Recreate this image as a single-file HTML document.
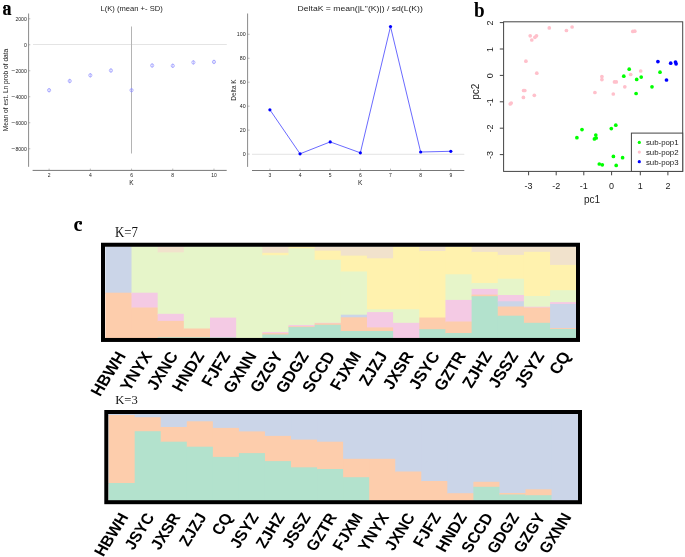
<!DOCTYPE html>
<html><head><meta charset="utf-8"><style>
html,body{margin:0;padding:0;background:#fff;}
svg{display:block;-webkit-font-smoothing:antialiased;will-change:transform;}
</style></head><body>
<svg width="685" height="557" viewBox="0 0 685 557">
<rect width="685" height="557" fill="#fff"/>
<text transform="translate(2.5,14.5) scale(0.886,1)" font-family="Liberation Serif, serif" font-weight="bold" font-size="20.4" stroke="#000" stroke-width="0.15">a</text>
<circle cx="4.5" cy="7.4" r="1.5" fill="#000"/>
<text x="131.6" y="11" font-family="Liberation Sans, sans-serif" font-size="7.6" fill="#222" text-anchor="middle">L(K) (mean +- SD)</text>
<line x1="28.6" y1="13.5" x2="28.6" y2="166.8" stroke="#8a8a8a" stroke-width="1"/>
<line x1="32.6" y1="170.4" x2="226.7" y2="170.4" stroke="#777" stroke-width="1"/>
<line x1="33" y1="44.5" x2="226.8" y2="44.5" stroke="#ddd" stroke-width="0.8"/>
<line x1="28.6" y1="18.75" x2="30.3" y2="18.75" stroke="#8a8a8a" stroke-width="0.6"/>
<text x="26.8" y="20.55" font-family="Liberation Sans, sans-serif" font-size="5.1" fill="#222" text-anchor="end">2000</text>
<line x1="28.6" y1="44.75" x2="30.3" y2="44.75" stroke="#8a8a8a" stroke-width="0.6"/>
<text x="26.8" y="46.55" font-family="Liberation Sans, sans-serif" font-size="5.1" fill="#222" text-anchor="end">0</text>
<line x1="28.6" y1="70.75" x2="30.3" y2="70.75" stroke="#8a8a8a" stroke-width="0.6"/>
<text x="26.8" y="72.55" font-family="Liberation Sans, sans-serif" font-size="5.1" fill="#222" text-anchor="end"><tspan font-size="6.6" dy="0.25">−</tspan><tspan dy="-0.25">2000</tspan></text>
<line x1="28.6" y1="96.75" x2="30.3" y2="96.75" stroke="#8a8a8a" stroke-width="0.6"/>
<text x="26.8" y="98.55" font-family="Liberation Sans, sans-serif" font-size="5.1" fill="#222" text-anchor="end"><tspan font-size="6.6" dy="0.25">−</tspan><tspan dy="-0.25">4000</tspan></text>
<line x1="28.6" y1="122.75" x2="30.3" y2="122.75" stroke="#8a8a8a" stroke-width="0.6"/>
<text x="26.8" y="124.55" font-family="Liberation Sans, sans-serif" font-size="5.1" fill="#222" text-anchor="end"><tspan font-size="6.6" dy="0.25">−</tspan><tspan dy="-0.25">6000</tspan></text>
<line x1="28.6" y1="148.75" x2="30.3" y2="148.75" stroke="#8a8a8a" stroke-width="0.6"/>
<text x="26.8" y="150.55" font-family="Liberation Sans, sans-serif" font-size="5.1" fill="#222" text-anchor="end"><tspan font-size="6.6" dy="0.25">−</tspan><tspan dy="-0.25">8000</tspan></text>
<line x1="49.10" y1="170.3" x2="49.10" y2="168.6" stroke="#8a8a8a" stroke-width="0.6"/>
<text x="49.10" y="177.1" font-family="Liberation Sans, sans-serif" font-size="5.0" fill="#222" text-anchor="middle">2</text>
<line x1="90.32" y1="170.3" x2="90.32" y2="168.6" stroke="#8a8a8a" stroke-width="0.6"/>
<text x="90.32" y="177.1" font-family="Liberation Sans, sans-serif" font-size="5.0" fill="#222" text-anchor="middle">4</text>
<line x1="131.54" y1="170.3" x2="131.54" y2="168.6" stroke="#8a8a8a" stroke-width="0.6"/>
<text x="131.54" y="177.1" font-family="Liberation Sans, sans-serif" font-size="5.0" fill="#222" text-anchor="middle">6</text>
<line x1="172.76" y1="170.3" x2="172.76" y2="168.6" stroke="#8a8a8a" stroke-width="0.6"/>
<text x="172.76" y="177.1" font-family="Liberation Sans, sans-serif" font-size="5.0" fill="#222" text-anchor="middle">8</text>
<line x1="213.98" y1="170.3" x2="213.98" y2="168.6" stroke="#8a8a8a" stroke-width="0.6"/>
<text x="213.98" y="177.1" font-family="Liberation Sans, sans-serif" font-size="5.0" fill="#222" text-anchor="middle">10</text>
<text x="131.5" y="184.5" font-family="Liberation Sans, sans-serif" font-size="6.5" fill="#222" text-anchor="middle">K</text>
<text transform="translate(8.2,90) rotate(-90)" font-family="Liberation Sans, sans-serif" font-size="6.6" fill="#222" text-anchor="middle">Mean of est. Ln prob of data</text>
<line x1="131.5" y1="26.5" x2="131.5" y2="153.5" stroke="#b4b4b4" stroke-width="1"/>
<line x1="49.10" y1="88.00" x2="49.10" y2="92.40" stroke="#99f" stroke-width="0.6"/>
<circle cx="49.10" cy="90.20" r="1.6" fill="none" stroke="#8c8cff" stroke-width="0.65"/>
<line x1="69.71" y1="78.80" x2="69.71" y2="83.20" stroke="#99f" stroke-width="0.6"/>
<circle cx="69.71" cy="81.00" r="1.6" fill="none" stroke="#8c8cff" stroke-width="0.65"/>
<line x1="90.32" y1="73.10" x2="90.32" y2="77.50" stroke="#99f" stroke-width="0.6"/>
<circle cx="90.32" cy="75.30" r="1.6" fill="none" stroke="#8c8cff" stroke-width="0.65"/>
<line x1="110.93" y1="68.30" x2="110.93" y2="72.70" stroke="#99f" stroke-width="0.6"/>
<circle cx="110.93" cy="70.50" r="1.6" fill="none" stroke="#8c8cff" stroke-width="0.65"/>
<line x1="131.54" y1="88.00" x2="131.54" y2="92.40" stroke="#99f" stroke-width="0.6"/>
<circle cx="131.54" cy="90.20" r="1.6" fill="none" stroke="#8c8cff" stroke-width="0.65"/>
<line x1="152.15" y1="63.30" x2="152.15" y2="67.70" stroke="#99f" stroke-width="0.6"/>
<circle cx="152.15" cy="65.50" r="1.6" fill="none" stroke="#8c8cff" stroke-width="0.65"/>
<line x1="172.76" y1="63.60" x2="172.76" y2="68.00" stroke="#99f" stroke-width="0.6"/>
<circle cx="172.76" cy="65.80" r="1.6" fill="none" stroke="#8c8cff" stroke-width="0.65"/>
<line x1="193.37" y1="60.20" x2="193.37" y2="64.60" stroke="#99f" stroke-width="0.6"/>
<circle cx="193.37" cy="62.40" r="1.6" fill="none" stroke="#8c8cff" stroke-width="0.65"/>
<line x1="213.98" y1="59.70" x2="213.98" y2="64.10" stroke="#99f" stroke-width="0.6"/>
<circle cx="213.98" cy="61.90" r="1.6" fill="none" stroke="#8c8cff" stroke-width="0.65"/>
<text x="297.6" y="11" font-family="Liberation Sans, sans-serif" font-size="7.6" fill="#222" textLength="125.2" lengthAdjust="spacingAndGlyphs">DeltaK = mean(|L''(K)|) / sd(L(K))</text>
<line x1="247.6" y1="13.5" x2="247.6" y2="166.9" stroke="#8a8a8a" stroke-width="1"/>
<line x1="252" y1="170.5" x2="464.3" y2="170.5" stroke="#777" stroke-width="1"/>
<line x1="252" y1="154.3" x2="464.3" y2="154.3" stroke="#ddd" stroke-width="0.8"/>
<line x1="247.6" y1="154.10" x2="249.6" y2="154.10" stroke="#8a8a8a" stroke-width="0.6"/>
<text x="245.6" y="155.90" font-family="Liberation Sans, sans-serif" font-size="5.3" fill="#222" text-anchor="end">0</text>
<line x1="247.6" y1="130.14" x2="249.6" y2="130.14" stroke="#8a8a8a" stroke-width="0.6"/>
<text x="245.6" y="131.94" font-family="Liberation Sans, sans-serif" font-size="5.3" fill="#222" text-anchor="end">20</text>
<line x1="247.6" y1="106.18" x2="249.6" y2="106.18" stroke="#8a8a8a" stroke-width="0.6"/>
<text x="245.6" y="107.98" font-family="Liberation Sans, sans-serif" font-size="5.3" fill="#222" text-anchor="end">40</text>
<line x1="247.6" y1="82.22" x2="249.6" y2="82.22" stroke="#8a8a8a" stroke-width="0.6"/>
<text x="245.6" y="84.02" font-family="Liberation Sans, sans-serif" font-size="5.3" fill="#222" text-anchor="end">60</text>
<line x1="247.6" y1="58.26" x2="249.6" y2="58.26" stroke="#8a8a8a" stroke-width="0.6"/>
<text x="245.6" y="60.06" font-family="Liberation Sans, sans-serif" font-size="5.3" fill="#222" text-anchor="end">80</text>
<line x1="247.6" y1="34.30" x2="249.6" y2="34.30" stroke="#8a8a8a" stroke-width="0.6"/>
<text x="245.6" y="36.10" font-family="Liberation Sans, sans-serif" font-size="5.3" fill="#222" text-anchor="end">100</text>
<line x1="269.90" y1="170.5" x2="269.90" y2="168.6" stroke="#8a8a8a" stroke-width="0.6"/>
<text x="269.90" y="177.1" font-family="Liberation Sans, sans-serif" font-size="5.0" fill="#222" text-anchor="middle">3</text>
<line x1="300.05" y1="170.5" x2="300.05" y2="168.6" stroke="#8a8a8a" stroke-width="0.6"/>
<text x="300.05" y="177.1" font-family="Liberation Sans, sans-serif" font-size="5.0" fill="#222" text-anchor="middle">4</text>
<line x1="330.20" y1="170.5" x2="330.20" y2="168.6" stroke="#8a8a8a" stroke-width="0.6"/>
<text x="330.20" y="177.1" font-family="Liberation Sans, sans-serif" font-size="5.0" fill="#222" text-anchor="middle">5</text>
<line x1="360.35" y1="170.5" x2="360.35" y2="168.6" stroke="#8a8a8a" stroke-width="0.6"/>
<text x="360.35" y="177.1" font-family="Liberation Sans, sans-serif" font-size="5.0" fill="#222" text-anchor="middle">6</text>
<line x1="390.50" y1="170.5" x2="390.50" y2="168.6" stroke="#8a8a8a" stroke-width="0.6"/>
<text x="390.50" y="177.1" font-family="Liberation Sans, sans-serif" font-size="5.0" fill="#222" text-anchor="middle">7</text>
<line x1="420.65" y1="170.5" x2="420.65" y2="168.6" stroke="#8a8a8a" stroke-width="0.6"/>
<text x="420.65" y="177.1" font-family="Liberation Sans, sans-serif" font-size="5.0" fill="#222" text-anchor="middle">8</text>
<line x1="450.80" y1="170.5" x2="450.80" y2="168.6" stroke="#8a8a8a" stroke-width="0.6"/>
<text x="450.80" y="177.1" font-family="Liberation Sans, sans-serif" font-size="5.0" fill="#222" text-anchor="middle">9</text>
<text x="360.2" y="184.5" font-family="Liberation Sans, sans-serif" font-size="6.5" fill="#222" text-anchor="middle">K</text>
<text transform="translate(236,90) rotate(-90)" font-family="Liberation Sans, sans-serif" font-size="6.5" fill="#222" text-anchor="middle">Delta K</text>
<polyline points="269.90,109.80 300.05,153.80 330.20,141.90 360.35,152.80 390.50,26.60 420.65,152.00 450.80,151.30" fill="none" stroke="#44f" stroke-width="0.8"/>
<circle cx="269.90" cy="109.80" r="1.6" fill="#00f"/>
<circle cx="300.05" cy="153.80" r="1.6" fill="#00f"/>
<circle cx="330.20" cy="141.90" r="1.6" fill="#00f"/>
<circle cx="360.35" cy="152.80" r="1.6" fill="#00f"/>
<circle cx="390.50" cy="26.60" r="1.6" fill="#00f"/>
<circle cx="420.65" cy="152.00" r="1.6" fill="#00f"/>
<circle cx="450.80" cy="151.30" r="1.6" fill="#00f"/>
<text transform="translate(474.1,16.6) scale(0.95,1)" font-family="Liberation Serif, serif" font-weight="bold" font-size="20.2">b</text>
<rect x="503.6" y="21.8" width="179.1" height="149.6" fill="none" stroke="#444" stroke-width="1"/>
<line x1="499.8" y1="22.60" x2="503.6" y2="22.60" stroke="#444" stroke-width="1"/>
<text transform="translate(492.8,23.00) rotate(-90)" font-family="Liberation Sans, sans-serif" font-size="9" fill="#222" text-anchor="middle">2</text>
<line x1="499.8" y1="49.00" x2="503.6" y2="49.00" stroke="#444" stroke-width="1"/>
<text transform="translate(492.8,49.40) rotate(-90)" font-family="Liberation Sans, sans-serif" font-size="9" fill="#222" text-anchor="middle">1</text>
<line x1="499.8" y1="75.40" x2="503.6" y2="75.40" stroke="#444" stroke-width="1"/>
<text transform="translate(492.8,75.80) rotate(-90)" font-family="Liberation Sans, sans-serif" font-size="9" fill="#222" text-anchor="middle">0</text>
<line x1="499.8" y1="101.80" x2="503.6" y2="101.80" stroke="#444" stroke-width="1"/>
<text transform="translate(492.8,102.20) rotate(-90)" font-family="Liberation Sans, sans-serif" font-size="9" fill="#222" text-anchor="middle">-1</text>
<line x1="499.8" y1="128.20" x2="503.6" y2="128.20" stroke="#444" stroke-width="1"/>
<text transform="translate(492.8,128.60) rotate(-90)" font-family="Liberation Sans, sans-serif" font-size="9" fill="#222" text-anchor="middle">-2</text>
<line x1="499.8" y1="154.60" x2="503.6" y2="154.60" stroke="#444" stroke-width="1"/>
<text transform="translate(492.8,155.00) rotate(-90)" font-family="Liberation Sans, sans-serif" font-size="9" fill="#222" text-anchor="middle">-3</text>
<line x1="528.60" y1="171.4" x2="528.60" y2="175.3" stroke="#444" stroke-width="1"/>
<text x="528.60" y="188.8" font-family="Liberation Sans, sans-serif" font-size="9" fill="#222" text-anchor="middle">-3</text>
<line x1="556.20" y1="171.4" x2="556.20" y2="175.3" stroke="#444" stroke-width="1"/>
<text x="556.20" y="188.8" font-family="Liberation Sans, sans-serif" font-size="9" fill="#222" text-anchor="middle">-2</text>
<line x1="583.80" y1="171.4" x2="583.80" y2="175.3" stroke="#444" stroke-width="1"/>
<text x="583.80" y="188.8" font-family="Liberation Sans, sans-serif" font-size="9" fill="#222" text-anchor="middle">-1</text>
<line x1="611.60" y1="171.4" x2="611.60" y2="175.3" stroke="#444" stroke-width="1"/>
<text x="611.60" y="188.8" font-family="Liberation Sans, sans-serif" font-size="9" fill="#222" text-anchor="middle">0</text>
<line x1="640.30" y1="171.4" x2="640.30" y2="175.3" stroke="#444" stroke-width="1"/>
<text x="640.30" y="188.8" font-family="Liberation Sans, sans-serif" font-size="9" fill="#222" text-anchor="middle">1</text>
<line x1="667.90" y1="171.4" x2="667.90" y2="175.3" stroke="#444" stroke-width="1"/>
<text x="667.90" y="188.8" font-family="Liberation Sans, sans-serif" font-size="9" fill="#222" text-anchor="middle">2</text>
<text x="592" y="203" font-family="Liberation Sans, sans-serif" font-size="10" fill="#222" text-anchor="middle">pc1</text>
<text transform="translate(479,91.7) rotate(-90)" font-family="Liberation Sans, sans-serif" font-size="10" fill="#222" text-anchor="middle">pc2</text>
<circle cx="530.2" cy="35.8" r="1.85" fill="#FFC0CB"/>
<circle cx="531.8" cy="40" r="1.85" fill="#FFC0CB"/>
<circle cx="534.9" cy="37.3" r="1.85" fill="#FFC0CB"/>
<circle cx="536.5" cy="35.8" r="1.85" fill="#FFC0CB"/>
<circle cx="549.3" cy="27.9" r="1.85" fill="#FFC0CB"/>
<circle cx="566.4" cy="30.5" r="1.85" fill="#FFC0CB"/>
<circle cx="572.1" cy="27" r="1.85" fill="#FFC0CB"/>
<circle cx="525.9" cy="61.2" r="1.85" fill="#FFC0CB"/>
<circle cx="536.8" cy="73.2" r="1.85" fill="#FFC0CB"/>
<circle cx="523.6" cy="90.5" r="1.85" fill="#FFC0CB"/>
<circle cx="524.8" cy="90.5" r="1.85" fill="#FFC0CB"/>
<circle cx="534.3" cy="95.3" r="1.85" fill="#FFC0CB"/>
<circle cx="523.4" cy="97.4" r="1.85" fill="#FFC0CB"/>
<circle cx="510.2" cy="104" r="1.85" fill="#FFC0CB"/>
<circle cx="511.2" cy="103" r="1.85" fill="#FFC0CB"/>
<circle cx="632.8" cy="31.4" r="1.85" fill="#FFC0CB"/>
<circle cx="634.8" cy="31.2" r="1.85" fill="#FFC0CB"/>
<circle cx="601.9" cy="76.5" r="1.85" fill="#FFC0CB"/>
<circle cx="601.9" cy="79.6" r="1.85" fill="#FFC0CB"/>
<circle cx="614.5" cy="81.9" r="1.85" fill="#FFC0CB"/>
<circle cx="616.3" cy="81.9" r="1.85" fill="#FFC0CB"/>
<circle cx="630.7" cy="74.5" r="1.85" fill="#FFC0CB"/>
<circle cx="640.7" cy="71" r="1.85" fill="#FFC0CB"/>
<circle cx="624.8" cy="86.8" r="1.85" fill="#FFC0CB"/>
<circle cx="594.9" cy="92.5" r="1.85" fill="#FFC0CB"/>
<circle cx="613.3" cy="94" r="1.85" fill="#FFC0CB"/>
<circle cx="629.2" cy="69.2" r="1.85" fill="#00FF00"/>
<circle cx="623.8" cy="76.2" r="1.85" fill="#00FF00"/>
<circle cx="636.7" cy="79.4" r="1.85" fill="#00FF00"/>
<circle cx="641.2" cy="77.1" r="1.85" fill="#00FF00"/>
<circle cx="660" cy="72.2" r="1.85" fill="#00FF00"/>
<circle cx="652" cy="86.8" r="1.85" fill="#00FF00"/>
<circle cx="636.1" cy="93.5" r="1.85" fill="#00FF00"/>
<circle cx="582" cy="129.6" r="1.85" fill="#00FF00"/>
<circle cx="576.9" cy="137.7" r="1.85" fill="#00FF00"/>
<circle cx="595.8" cy="135.1" r="1.85" fill="#00FF00"/>
<circle cx="594.4" cy="138.9" r="1.85" fill="#00FF00"/>
<circle cx="596.2" cy="138" r="1.85" fill="#00FF00"/>
<circle cx="611.3" cy="128.6" r="1.85" fill="#00FF00"/>
<circle cx="615.8" cy="125.2" r="1.85" fill="#00FF00"/>
<circle cx="613.4" cy="156.4" r="1.85" fill="#00FF00"/>
<circle cx="622.6" cy="157.7" r="1.85" fill="#00FF00"/>
<circle cx="599.3" cy="164" r="1.85" fill="#00FF00"/>
<circle cx="602.3" cy="164.8" r="1.85" fill="#00FF00"/>
<circle cx="616.2" cy="165.4" r="1.85" fill="#00FF00"/>
<circle cx="657.9" cy="61.6" r="1.85" fill="#0000FF"/>
<circle cx="670.7" cy="63.2" r="1.85" fill="#0000FF"/>
<circle cx="675.5" cy="62" r="1.85" fill="#0000FF"/>
<circle cx="676.1" cy="63.8" r="1.85" fill="#0000FF"/>
<circle cx="666.5" cy="80" r="1.85" fill="#0000FF"/>
<rect x="631.4" y="133.1" width="51.3" height="38.3" fill="#fff" stroke="#444" stroke-width="1"/>
<circle cx="639.3" cy="142.40" r="1.6" fill="#00FF00"/>
<text x="645.9" y="145.20" font-family="Liberation Sans, sans-serif" font-size="7.85" fill="#1a1a1a">sub-pop1</text>
<circle cx="639.3" cy="152.05" r="1.6" fill="#FFC0CB"/>
<text x="645.9" y="154.85" font-family="Liberation Sans, sans-serif" font-size="7.85" fill="#1a1a1a">sub-pop2</text>
<circle cx="639.3" cy="161.70" r="1.6" fill="#0000FF"/>
<text x="645.9" y="164.50" font-family="Liberation Sans, sans-serif" font-size="7.85" fill="#1a1a1a">sub-pop3</text>
<text x="73.6" y="231.3" font-family="Liberation Serif, serif" font-weight="bold" font-size="20.3">c</text>
<circle cx="80.6" cy="223.3" r="1.4" fill="#000"/>
<text x="115" y="237.3" font-family="Liberation Serif, serif" font-size="13.8" textLength="23" lengthAdjust="spacingAndGlyphs" fill="#111">K=7</text>
<text x="115.2" y="403.9" font-family="Liberation Serif, serif" font-size="13.2" textLength="22.6" lengthAdjust="spacingAndGlyphs" fill="#111">K=3</text>
<rect x="105.35" y="246.70" width="27.16" height="47.00" fill="#CBD5E8"/>
<rect x="105.35" y="292.70" width="27.16" height="45.90" fill="#FDCDAC"/>
<rect x="131.51" y="246.70" width="27.16" height="47.00" fill="#E6F5C9"/>
<rect x="131.51" y="292.70" width="27.16" height="15.80" fill="#F4CAE4"/>
<rect x="131.51" y="307.50" width="27.16" height="31.10" fill="#FDCDAC"/>
<rect x="157.67" y="246.70" width="27.16" height="6.70" fill="#F1E2CC"/>
<rect x="157.67" y="252.40" width="27.16" height="62.40" fill="#E6F5C9"/>
<rect x="157.67" y="313.80" width="27.16" height="8.10" fill="#F4CAE4"/>
<rect x="157.67" y="320.90" width="27.16" height="17.40" fill="#FDCDAC"/>
<rect x="157.67" y="337.30" width="27.16" height="1.30" fill="#B3E2CD"/>
<rect x="183.83" y="246.70" width="27.16" height="82.80" fill="#E6F5C9"/>
<rect x="183.83" y="328.50" width="27.16" height="9.80" fill="#FDCDAC"/>
<rect x="183.83" y="337.30" width="27.16" height="1.30" fill="#B3E2CD"/>
<rect x="209.99" y="246.70" width="27.16" height="71.90" fill="#E6F5C9"/>
<rect x="209.99" y="317.60" width="27.16" height="20.90" fill="#F4CAE4"/>
<rect x="209.99" y="337.50" width="27.16" height="1.10" fill="#B3E2CD"/>
<rect x="236.16" y="246.70" width="27.16" height="91.90" fill="#E6F5C9"/>
<rect x="262.32" y="246.70" width="27.16" height="7.10" fill="#F1E2CC"/>
<rect x="262.32" y="252.80" width="27.16" height="3.40" fill="#FFF2AE"/>
<rect x="262.32" y="255.20" width="27.16" height="77.80" fill="#E6F5C9"/>
<rect x="262.32" y="332.00" width="27.16" height="2.20" fill="#F4CAE4"/>
<rect x="262.32" y="333.20" width="27.16" height="2.30" fill="#FDCDAC"/>
<rect x="262.32" y="334.50" width="27.16" height="4.10" fill="#B3E2CD"/>
<rect x="288.48" y="246.70" width="27.16" height="2.60" fill="#FFF2AE"/>
<rect x="288.48" y="248.30" width="27.16" height="77.70" fill="#E6F5C9"/>
<rect x="288.48" y="325.00" width="27.16" height="2.30" fill="#F4CAE4"/>
<rect x="288.48" y="326.30" width="27.16" height="1.80" fill="#FDCDAC"/>
<rect x="288.48" y="327.10" width="27.16" height="11.50" fill="#B3E2CD"/>
<rect x="314.64" y="246.70" width="27.16" height="4.90" fill="#F1E2CC"/>
<rect x="314.64" y="250.60" width="27.16" height="10.20" fill="#FFF2AE"/>
<rect x="314.64" y="259.80" width="27.16" height="64.00" fill="#E6F5C9"/>
<rect x="314.64" y="322.80" width="27.16" height="1.50" fill="#F4CAE4"/>
<rect x="314.64" y="323.30" width="27.16" height="2.50" fill="#FDCDAC"/>
<rect x="314.64" y="324.80" width="27.16" height="13.80" fill="#B3E2CD"/>
<rect x="340.80" y="246.70" width="27.16" height="9.90" fill="#F1E2CC"/>
<rect x="340.80" y="255.60" width="27.16" height="16.90" fill="#FFF2AE"/>
<rect x="340.80" y="271.50" width="27.16" height="44.20" fill="#E6F5C9"/>
<rect x="340.80" y="314.70" width="27.16" height="3.60" fill="#CBD5E8"/>
<rect x="340.80" y="317.30" width="27.16" height="14.70" fill="#FDCDAC"/>
<rect x="340.80" y="331.00" width="27.16" height="7.60" fill="#B3E2CD"/>
<rect x="366.96" y="246.70" width="27.16" height="12.60" fill="#F1E2CC"/>
<rect x="366.96" y="258.30" width="27.16" height="52.00" fill="#FFF2AE"/>
<rect x="366.96" y="309.30" width="27.16" height="3.80" fill="#E6F5C9"/>
<rect x="366.96" y="312.10" width="27.16" height="16.30" fill="#F4CAE4"/>
<rect x="366.96" y="327.40" width="27.16" height="4.60" fill="#FDCDAC"/>
<rect x="366.96" y="331.00" width="27.16" height="7.60" fill="#B3E2CD"/>
<rect x="393.12" y="246.70" width="27.16" height="63.50" fill="#FFF2AE"/>
<rect x="393.12" y="309.20" width="27.16" height="14.60" fill="#E6F5C9"/>
<rect x="393.12" y="322.80" width="27.16" height="15.80" fill="#F4CAE4"/>
<rect x="419.28" y="246.70" width="27.16" height="5.30" fill="#F1E2CC"/>
<rect x="419.28" y="251.00" width="27.16" height="67.50" fill="#FFF2AE"/>
<rect x="419.28" y="317.50" width="27.16" height="12.70" fill="#FDCDAC"/>
<rect x="419.28" y="329.20" width="27.16" height="9.40" fill="#B3E2CD"/>
<rect x="445.44" y="246.70" width="27.16" height="28.60" fill="#FFF2AE"/>
<rect x="445.44" y="274.30" width="27.16" height="26.60" fill="#E6F5C9"/>
<rect x="445.44" y="299.90" width="27.16" height="22.60" fill="#F4CAE4"/>
<rect x="445.44" y="321.50" width="27.16" height="12.50" fill="#FDCDAC"/>
<rect x="445.44" y="333.00" width="27.16" height="5.60" fill="#B3E2CD"/>
<rect x="471.61" y="246.70" width="27.16" height="6.20" fill="#F1E2CC"/>
<rect x="471.61" y="251.90" width="27.16" height="32.10" fill="#FFF2AE"/>
<rect x="471.61" y="283.00" width="27.16" height="6.90" fill="#E6F5C9"/>
<rect x="471.61" y="288.90" width="27.16" height="6.70" fill="#F4CAE4"/>
<rect x="471.61" y="294.60" width="27.16" height="2.60" fill="#FDCDAC"/>
<rect x="471.61" y="296.20" width="27.16" height="42.40" fill="#B3E2CD"/>
<rect x="497.77" y="246.70" width="27.16" height="9.20" fill="#F1E2CC"/>
<rect x="497.77" y="254.90" width="27.16" height="24.80" fill="#FFF2AE"/>
<rect x="497.77" y="278.70" width="27.16" height="17.30" fill="#E6F5C9"/>
<rect x="497.77" y="295.00" width="27.16" height="7.30" fill="#F4CAE4"/>
<rect x="497.77" y="301.30" width="27.16" height="6.20" fill="#CBD5E8"/>
<rect x="497.77" y="306.50" width="27.16" height="10.20" fill="#FDCDAC"/>
<rect x="497.77" y="315.70" width="27.16" height="22.90" fill="#B3E2CD"/>
<rect x="523.93" y="246.70" width="27.16" height="6.10" fill="#F1E2CC"/>
<rect x="523.93" y="251.80" width="27.16" height="45.20" fill="#FFF2AE"/>
<rect x="523.93" y="296.00" width="27.16" height="11.70" fill="#E6F5C9"/>
<rect x="523.93" y="306.70" width="27.16" height="1.80" fill="#F4CAE4"/>
<rect x="523.93" y="307.50" width="27.16" height="16.30" fill="#FDCDAC"/>
<rect x="523.93" y="322.80" width="27.16" height="15.80" fill="#B3E2CD"/>
<rect x="550.09" y="246.70" width="27.16" height="19.20" fill="#F1E2CC"/>
<rect x="550.09" y="264.90" width="27.16" height="26.30" fill="#FFF2AE"/>
<rect x="550.09" y="290.20" width="27.16" height="12.90" fill="#E6F5C9"/>
<rect x="550.09" y="302.10" width="27.16" height="2.90" fill="#F4CAE4"/>
<rect x="550.09" y="304.00" width="27.16" height="25.10" fill="#CBD5E8"/>
<rect x="550.09" y="328.10" width="27.16" height="1.90" fill="#FDCDAC"/>
<rect x="550.09" y="329.00" width="27.16" height="9.60" fill="#B3E2CD"/>
<rect x="103" y="244.75" width="475" height="95.2" fill="none" stroke="#000" stroke-width="4"/>
<rect x="108.65" y="414.00" width="27.05" height="2.00" fill="#CBD5E8"/>
<rect x="108.65" y="415.00" width="27.05" height="69.00" fill="#FDCDAC"/>
<rect x="108.65" y="483.00" width="27.05" height="17.80" fill="#B3E2CD"/>
<rect x="134.70" y="414.00" width="27.05" height="4.20" fill="#CBD5E8"/>
<rect x="134.70" y="417.20" width="27.05" height="15.00" fill="#FDCDAC"/>
<rect x="134.70" y="431.20" width="27.05" height="69.60" fill="#B3E2CD"/>
<rect x="160.76" y="414.00" width="27.05" height="14.00" fill="#CBD5E8"/>
<rect x="160.76" y="427.00" width="27.05" height="15.70" fill="#FDCDAC"/>
<rect x="160.76" y="441.70" width="27.05" height="59.10" fill="#B3E2CD"/>
<rect x="186.81" y="414.00" width="27.05" height="8.30" fill="#CBD5E8"/>
<rect x="186.81" y="421.30" width="27.05" height="26.40" fill="#FDCDAC"/>
<rect x="186.81" y="446.70" width="27.05" height="54.10" fill="#B3E2CD"/>
<rect x="212.86" y="414.00" width="27.05" height="14.90" fill="#CBD5E8"/>
<rect x="212.86" y="427.90" width="27.05" height="30.00" fill="#FDCDAC"/>
<rect x="212.86" y="456.90" width="27.05" height="43.90" fill="#B3E2CD"/>
<rect x="238.91" y="414.00" width="27.05" height="18.40" fill="#CBD5E8"/>
<rect x="238.91" y="431.40" width="27.05" height="22.70" fill="#FDCDAC"/>
<rect x="238.91" y="453.10" width="27.05" height="47.70" fill="#B3E2CD"/>
<rect x="264.97" y="414.00" width="27.05" height="22.90" fill="#CBD5E8"/>
<rect x="264.97" y="435.90" width="27.05" height="26.20" fill="#FDCDAC"/>
<rect x="264.97" y="461.10" width="27.05" height="39.70" fill="#B3E2CD"/>
<rect x="291.02" y="414.00" width="27.05" height="26.60" fill="#CBD5E8"/>
<rect x="291.02" y="439.60" width="27.05" height="28.70" fill="#FDCDAC"/>
<rect x="291.02" y="467.30" width="27.05" height="33.50" fill="#B3E2CD"/>
<rect x="317.07" y="414.00" width="27.05" height="28.70" fill="#CBD5E8"/>
<rect x="317.07" y="441.70" width="27.05" height="28.30" fill="#FDCDAC"/>
<rect x="317.07" y="469.00" width="27.05" height="31.80" fill="#B3E2CD"/>
<rect x="343.12" y="414.00" width="27.05" height="45.80" fill="#CBD5E8"/>
<rect x="343.12" y="458.80" width="27.05" height="19.40" fill="#FDCDAC"/>
<rect x="343.12" y="477.20" width="27.05" height="23.60" fill="#B3E2CD"/>
<rect x="369.18" y="414.00" width="27.05" height="45.80" fill="#CBD5E8"/>
<rect x="369.18" y="458.80" width="27.05" height="42.00" fill="#FDCDAC"/>
<rect x="395.23" y="414.00" width="27.05" height="58.50" fill="#CBD5E8"/>
<rect x="395.23" y="471.50" width="27.05" height="29.30" fill="#FDCDAC"/>
<rect x="421.28" y="414.00" width="27.05" height="68.00" fill="#CBD5E8"/>
<rect x="421.28" y="481.00" width="27.05" height="19.80" fill="#FDCDAC"/>
<rect x="447.34" y="414.00" width="27.05" height="80.20" fill="#CBD5E8"/>
<rect x="447.34" y="493.20" width="27.05" height="7.60" fill="#FDCDAC"/>
<rect x="473.39" y="414.00" width="27.05" height="68.80" fill="#CBD5E8"/>
<rect x="473.39" y="481.80" width="27.05" height="6.00" fill="#FDCDAC"/>
<rect x="473.39" y="486.80" width="27.05" height="14.00" fill="#B3E2CD"/>
<rect x="499.44" y="414.00" width="27.05" height="80.00" fill="#CBD5E8"/>
<rect x="499.44" y="493.00" width="27.05" height="2.50" fill="#FDCDAC"/>
<rect x="499.44" y="494.50" width="27.05" height="6.30" fill="#B3E2CD"/>
<rect x="525.49" y="414.00" width="27.05" height="76.30" fill="#CBD5E8"/>
<rect x="525.49" y="489.30" width="27.05" height="6.90" fill="#FDCDAC"/>
<rect x="525.49" y="495.20" width="27.05" height="5.60" fill="#B3E2CD"/>
<rect x="551.55" y="414.00" width="27.05" height="86.80" fill="#CBD5E8"/>
<rect x="106.3" y="412" width="473.7" height="90.2" fill="none" stroke="#000" stroke-width="4"/>
<text transform="translate(126.43,355.50) scale(1.1,1) rotate(-60)" font-family="Liberation Sans, sans-serif" font-weight="bold" font-size="15.5" fill="#000" text-anchor="end">HBWH</text>
<text transform="translate(152.59,355.50) scale(1.1,1) rotate(-60)" font-family="Liberation Sans, sans-serif" font-weight="bold" font-size="15.5" fill="#000" text-anchor="end">YNYX</text>
<text transform="translate(178.75,355.50) scale(1.1,1) rotate(-60)" font-family="Liberation Sans, sans-serif" font-weight="bold" font-size="15.5" fill="#000" text-anchor="end">JXNC</text>
<text transform="translate(204.91,355.50) scale(1.1,1) rotate(-60)" font-family="Liberation Sans, sans-serif" font-weight="bold" font-size="15.5" fill="#000" text-anchor="end">HNDZ</text>
<text transform="translate(231.07,355.50) scale(1.1,1) rotate(-60)" font-family="Liberation Sans, sans-serif" font-weight="bold" font-size="15.5" fill="#000" text-anchor="end">FJFZ</text>
<text transform="translate(257.24,355.50) scale(1.1,1) rotate(-60)" font-family="Liberation Sans, sans-serif" font-weight="bold" font-size="15.5" fill="#000" text-anchor="end">GXNN</text>
<text transform="translate(283.40,355.50) scale(1.1,1) rotate(-60)" font-family="Liberation Sans, sans-serif" font-weight="bold" font-size="15.5" fill="#000" text-anchor="end">GZGY</text>
<text transform="translate(309.56,355.50) scale(1.1,1) rotate(-60)" font-family="Liberation Sans, sans-serif" font-weight="bold" font-size="15.5" fill="#000" text-anchor="end">GDGZ</text>
<text transform="translate(335.72,355.50) scale(1.1,1) rotate(-60)" font-family="Liberation Sans, sans-serif" font-weight="bold" font-size="15.5" fill="#000" text-anchor="end">SCCD</text>
<text transform="translate(361.88,355.50) scale(1.1,1) rotate(-60)" font-family="Liberation Sans, sans-serif" font-weight="bold" font-size="15.5" fill="#000" text-anchor="end">FJXM</text>
<text transform="translate(388.04,355.50) scale(1.1,1) rotate(-60)" font-family="Liberation Sans, sans-serif" font-weight="bold" font-size="15.5" fill="#000" text-anchor="end">ZJZJ</text>
<text transform="translate(414.20,355.50) scale(1.1,1) rotate(-60)" font-family="Liberation Sans, sans-serif" font-weight="bold" font-size="15.5" fill="#000" text-anchor="end">JXSR</text>
<text transform="translate(440.36,355.50) scale(1.1,1) rotate(-60)" font-family="Liberation Sans, sans-serif" font-weight="bold" font-size="15.5" fill="#000" text-anchor="end">JSYC</text>
<text transform="translate(466.52,355.50) scale(1.1,1) rotate(-60)" font-family="Liberation Sans, sans-serif" font-weight="bold" font-size="15.5" fill="#000" text-anchor="end">GZTR</text>
<text transform="translate(492.69,355.50) scale(1.1,1) rotate(-60)" font-family="Liberation Sans, sans-serif" font-weight="bold" font-size="15.5" fill="#000" text-anchor="end">ZJHZ</text>
<text transform="translate(518.85,355.50) scale(1.1,1) rotate(-60)" font-family="Liberation Sans, sans-serif" font-weight="bold" font-size="15.5" fill="#000" text-anchor="end">JSSZ</text>
<text transform="translate(545.01,355.50) scale(1.1,1) rotate(-60)" font-family="Liberation Sans, sans-serif" font-weight="bold" font-size="15.5" fill="#000" text-anchor="end">JSYZ</text>
<text transform="translate(571.17,355.50) scale(1.1,1) rotate(-60)" font-family="Liberation Sans, sans-serif" font-weight="bold" font-size="15.5" fill="#000" text-anchor="end">CQ</text>
<text transform="translate(128.98,516.90) scale(1.1,1) rotate(-60)" font-family="Liberation Sans, sans-serif" font-weight="bold" font-size="15" fill="#000" text-anchor="end">HBWH</text>
<text transform="translate(155.03,516.90) scale(1.1,1) rotate(-60)" font-family="Liberation Sans, sans-serif" font-weight="bold" font-size="15" fill="#000" text-anchor="end">JSYC</text>
<text transform="translate(181.08,516.90) scale(1.1,1) rotate(-60)" font-family="Liberation Sans, sans-serif" font-weight="bold" font-size="15" fill="#000" text-anchor="end">JXSR</text>
<text transform="translate(207.13,516.90) scale(1.1,1) rotate(-60)" font-family="Liberation Sans, sans-serif" font-weight="bold" font-size="15" fill="#000" text-anchor="end">ZJZJ</text>
<text transform="translate(233.19,516.90) scale(1.1,1) rotate(-60)" font-family="Liberation Sans, sans-serif" font-weight="bold" font-size="15" fill="#000" text-anchor="end">CQ</text>
<text transform="translate(259.24,516.90) scale(1.1,1) rotate(-60)" font-family="Liberation Sans, sans-serif" font-weight="bold" font-size="15" fill="#000" text-anchor="end">JSYZ</text>
<text transform="translate(285.29,516.90) scale(1.1,1) rotate(-60)" font-family="Liberation Sans, sans-serif" font-weight="bold" font-size="15" fill="#000" text-anchor="end">ZJHZ</text>
<text transform="translate(311.35,516.90) scale(1.1,1) rotate(-60)" font-family="Liberation Sans, sans-serif" font-weight="bold" font-size="15" fill="#000" text-anchor="end">JSSZ</text>
<text transform="translate(337.40,516.90) scale(1.1,1) rotate(-60)" font-family="Liberation Sans, sans-serif" font-weight="bold" font-size="15" fill="#000" text-anchor="end">GZTR</text>
<text transform="translate(363.45,516.90) scale(1.1,1) rotate(-60)" font-family="Liberation Sans, sans-serif" font-weight="bold" font-size="15" fill="#000" text-anchor="end">FJXM</text>
<text transform="translate(389.50,516.90) scale(1.1,1) rotate(-60)" font-family="Liberation Sans, sans-serif" font-weight="bold" font-size="15" fill="#000" text-anchor="end">YNYX</text>
<text transform="translate(415.56,516.90) scale(1.1,1) rotate(-60)" font-family="Liberation Sans, sans-serif" font-weight="bold" font-size="15" fill="#000" text-anchor="end">JXNC</text>
<text transform="translate(441.61,516.90) scale(1.1,1) rotate(-60)" font-family="Liberation Sans, sans-serif" font-weight="bold" font-size="15" fill="#000" text-anchor="end">FJFZ</text>
<text transform="translate(467.66,516.90) scale(1.1,1) rotate(-60)" font-family="Liberation Sans, sans-serif" font-weight="bold" font-size="15" fill="#000" text-anchor="end">HNDZ</text>
<text transform="translate(493.72,516.90) scale(1.1,1) rotate(-60)" font-family="Liberation Sans, sans-serif" font-weight="bold" font-size="15" fill="#000" text-anchor="end">SCCD</text>
<text transform="translate(519.77,516.90) scale(1.1,1) rotate(-60)" font-family="Liberation Sans, sans-serif" font-weight="bold" font-size="15" fill="#000" text-anchor="end">GDGZ</text>
<text transform="translate(545.82,516.90) scale(1.1,1) rotate(-60)" font-family="Liberation Sans, sans-serif" font-weight="bold" font-size="15" fill="#000" text-anchor="end">GZGY</text>
<text transform="translate(571.87,516.90) scale(1.1,1) rotate(-60)" font-family="Liberation Sans, sans-serif" font-weight="bold" font-size="15" fill="#000" text-anchor="end">GXNN</text>
</svg>
</body></html>
